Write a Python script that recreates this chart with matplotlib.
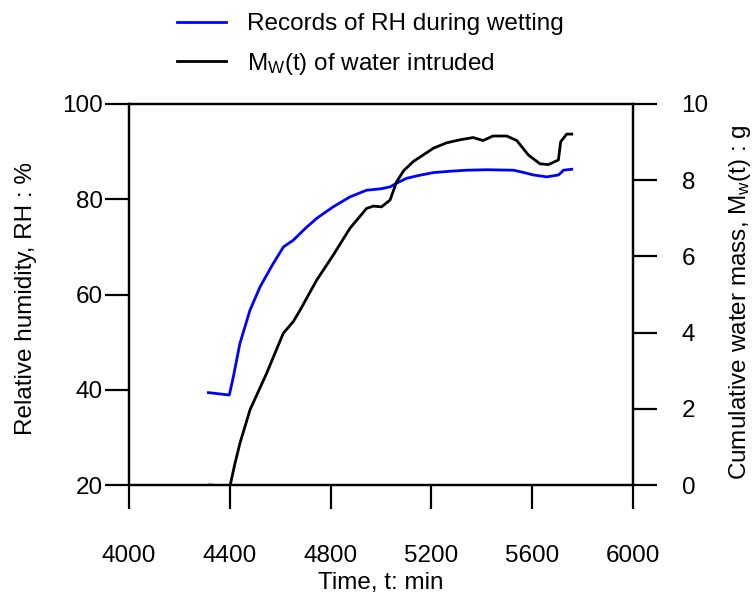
import matplotlib
matplotlib.use("Agg")
import matplotlib.pyplot as plt

plt.rcParams['font.family'] = ['Liberation Sans', 'DejaVu Sans']
plt.rcParams['mathtext.fontset'] = 'custom'
plt.rcParams['mathtext.rm'] = 'Liberation Sans'
plt.rcParams['mathtext.it'] = 'Liberation Sans'

# relative humidity records (time in min, RH in %)
rh_time = [4315, 4398, 4414, 4440, 4480, 4520, 4570, 4613, 4652, 4700, 4745,
           4810, 4877, 4943, 5000, 5036, 5070, 5102, 5150, 5208, 5280, 5340,
           5420, 5525, 5560, 5605, 5658, 5704, 5715, 5724, 5757]
rh_vals = [39.4, 38.9, 42.7, 49.7, 56.7, 61.6, 66.3, 70.0, 71.4, 73.9, 76.0,
           78.4, 80.5, 81.9, 82.2, 82.6, 83.6, 84.4, 85.0, 85.6, 85.9, 86.1,
           86.2, 86.1, 85.7, 85.1, 84.7, 85.1, 85.6, 86.1, 86.3]

# cumulative water mass intruded (g)
mw_time = [4321, 4360, 4394, 4400, 4420, 4440, 4480, 4546, 4612, 4652, 4679,
           4745, 4811, 4877, 4943, 4970, 5002, 5036, 5062, 5090, 5128, 5208,
           5260, 5313, 5366, 5405, 5444, 5499, 5539, 5585, 5631, 5664, 5704,
           5713, 5737, 5757]
mw_vals = [0.0, -0.02, -0.05, -0.05, 0.55, 1.09, 1.97, 2.93, 3.98, 4.29, 4.59,
           5.38, 6.04, 6.74, 7.26, 7.32, 7.30, 7.48, 7.96, 8.25, 8.49, 8.84,
           8.98, 9.06, 9.12, 9.04, 9.16, 9.16, 9.04, 8.66, 8.43, 8.41, 8.53,
           9.01, 9.21, 9.21]

x_ticks = [4000, 4400, 4800, 5200, 5600, 6000]
rh_ticks = [20, 40, 60, 80, 100]
mw_ticks = [0, 2, 4, 6, 8, 10]

fs = 17.5
fig = plt.figure(figsize=(7.55, 5.97), dpi=100)
ax = fig.add_axes([129 / 755, 1 - 485 / 597, 504 / 755, 381 / 597])
ax2 = ax.twinx()

l1, = ax.plot(rh_time, rh_vals, color='#0000ff', lw=2.0,
              label='Records of RH during wetting')
l2, = ax2.plot(mw_time, mw_vals, color='black', lw=2.0,
               label=r'$\mathregular{M_W}$(t) of water intruded')

ax.set_xlim(4000, 6000)
ax.set_ylim(20, 100)
ax2.set_ylim(0, 10)
ax.set_xticks(x_ticks)
ax.set_yticks(rh_ticks)
ax2.set_yticks(mw_ticks)

for a in (ax, ax2):
    for s in a.spines.values():
        s.set_linewidth(1.6)
ax.tick_params(axis='x', direction='out', length=17, width=1.6, pad=26,
               labelsize=fs)
ax.tick_params(axis='y', direction='out', length=17, width=1.6, pad=2,
               labelsize=fs)
ax2.tick_params(axis='y', direction='out', length=17, width=1.6, pad=18,
                labelsize=fs)

ax.set_xlabel('Time, t: min', fontsize=fs, va='center')
ax.xaxis.set_label_coords(0.5, -0.258)
ax.set_ylabel('Relative humidity, RH : %', fontsize=fs, va='center')
ax.yaxis.set_label_coords(-0.205, 0.49)
ax2.set_ylabel(r'Cumulative water mass, $\mathregular{M_w}$(t) : g',
               fontsize=fs, rotation=90, va='center')
ax2.yaxis.set_label_coords(1.212, 0.48)

fig.legend(handles=[l1, l2], loc='upper left',
           bbox_to_anchor=(177 / 755, 1 - 13 / 597), frameon=False,
           fontsize=fs, handlelength=2.0, handletextpad=0.9,
           labelspacing=0.65, borderpad=0, borderaxespad=0)

fig.savefig('out.png', dpi=100)
